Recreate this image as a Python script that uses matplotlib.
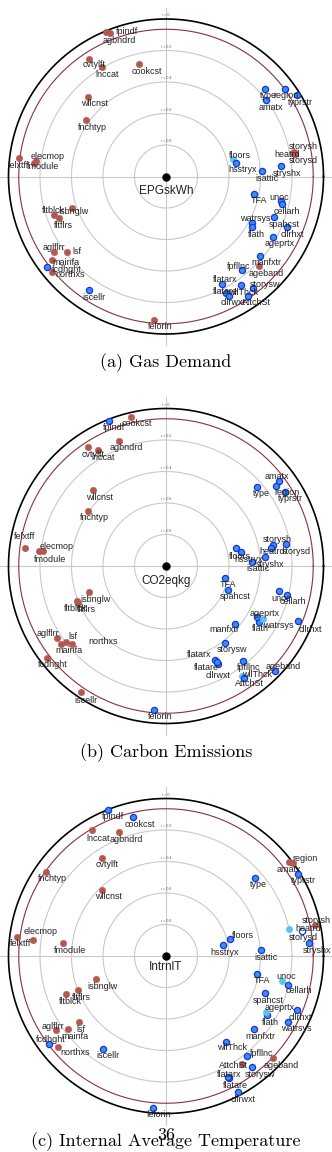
import numpy as np
import matplotlib
matplotlib.use("Agg")
import matplotlib.pyplot as plt

# ---------------- data ----------------
names = ["fpindf", "agbndrd", "cvtylft", "lnccat", "cookcst", "wllcnst", "fnchtyp",
         "felxtff", "elecmop", "fmodule", "type", "region", "typrstr", "amatx",
         "storysh", "heatrd", "storysd", "floors", "hsstryx", "isattic", "stryshx",
         "TFA", "unoc", "cellarh", "watrsys", "flath", "spahcst", "cllrhxt",
         "ageprtx", "manfxtr", "ageband", "fpfllnc", "flatarx", "wllThck", "storysw",
         "flatare", "cllrwxt", "AttchSt", "isbnglw", "fltblck", "fltflrs", "aglflrr",
         "lsf", "mainfa", "fcdhght", "northxs", "iscellr", "felorin"]

# (a) Gas Demand
gas_x = [-0.381, -0.356, -0.489, -0.406, -0.170, -0.493, -0.508, -0.933, -0.825, -0.836,
         0.630, 0.757, 0.830, 0.635, 0.815, 0.804, 0.819, 0.427, 0.444, 0.610, 0.730,
         0.559, 0.730, 0.738, 0.546, 0.546, 0.688, 0.771, 0.679, 0.595, 0.592, 0.481,
         0.356, 0.476, 0.550, 0.381, 0.400, 0.523, -0.595, -0.711, -0.677, -0.711,
         -0.627, -0.726, -0.754, -0.726, -0.487, -0.074]
gas_y = [0.916, 0.909, 0.748, 0.693, 0.716, 0.507, 0.357, 0.117, 0.098, 0.084,
         0.554, 0.554, 0.517, 0.486, 0.157, 0.147, 0.143, 0.109, 0.084, 0.033, 0.065,
         -0.113, -0.154, -0.175, -0.297, -0.323, -0.260, -0.319, -0.382, -0.503, -0.570,
         -0.596, -0.684, -0.689, -0.707, -0.740, -0.759, -0.759, -0.198, -0.244, -0.265,
         -0.477, -0.477, -0.530, -0.573, -0.604, -0.721, -0.911]
gas_sign = "mmmmmmmmmm" "bbbb" "mmm" "c" "bbbbbbbbbbbb" "m" "bbbbbbb" "mmmmmm" "b" "m" "b" "m"

# (b) Carbon Emissions
co2_x = [-0.364, -0.297, -0.493, -0.434, -0.222, -0.463, -0.497, -0.895, -0.783, -0.806,
         0.576, 0.700, 0.757, 0.716, 0.677, 0.667, 0.762, 0.444, 0.478, 0.548, 0.629,
         0.375, 0.717, 0.770, 0.592, 0.576, 0.396, 0.840, 0.618, 0.436, 0.694, 0.491,
         0.311, 0.481, 0.377, 0.332, 0.324, 0.497, -0.487, -0.567, -0.557, -0.690,
         -0.637, -0.669, -0.757, -0.595, -0.538, -0.074]
co2_y = [0.923, 0.796, 0.757, 0.737, 0.948, 0.481, 0.349, 0.112, 0.097, 0.093,
         0.503, 0.508, 0.472, 0.542, 0.131, 0.117, 0.140, 0.112, 0.091, 0.027, 0.055,
         -0.074, -0.157, -0.184, -0.354, -0.326, -0.152, -0.347, -0.338, -0.368, -0.665,
         -0.603, -0.597, -0.698, -0.487, -0.624, -0.610, -0.713, -0.163, -0.220, -0.235,
         -0.459, -0.481, -0.495, -0.582, -0.495, -0.802, -0.914]
co2_sign = "b" "mmmmmmmmm" "bbbbbbbbbbbbbbbbbb" "c" "bbbb" "c" "bbbb" "mmmmmmmmm" "b"

# (c) Internal Average Temperature
tmp_x = [-0.366, -0.297, -0.406, -0.470, -0.208, -0.406, -0.762, -0.948, -0.843, -0.656,
         0.565, 0.808, 0.836, 0.779, 0.946, 0.862, 0.779, 0.406, 0.360, 0.603, 0.910,
         0.580, 0.735, 0.773, 0.773, 0.639, 0.629, 0.832, 0.633, 0.557, 0.681, 0.516,
         0.402, 0.381, 0.548, 0.394, 0.455, 0.481, -0.444, -0.637, -0.561, -0.698,
         -0.552, -0.620, -0.743, -0.684, -0.398, -0.081]
tmp_y = [0.927, 0.787, 0.624, 0.798, 0.881, 0.421, 0.533, 0.123, 0.102, 0.084,
         0.495, 0.592, 0.521, 0.595, 0.197, 0.161, 0.170, 0.106, 0.072, 0.038, 0.081,
         -0.112, -0.157, -0.182, -0.419, -0.375, -0.237, -0.341, -0.354, -0.465, -0.650,
         -0.633, -0.777, -0.546, -0.705, -0.768, -0.862, -0.688, -0.148, -0.243, -0.218,
         -0.470, -0.419, -0.462, -0.561, -0.576, -0.590, -0.963]
tmp_sign = "bmmmbmmmmm" "bmbmm" "hc" "bbbbb" "c" "bbbbb" "c" "b" "m" "bbbbbb" "m" "mmmmmm" "b" "m" "bb"

targets = ["EPGskWh", "CO2eqkg", "IntrnlT"]
captions = ["(a) Gas Demand", "(b) Carbon Emissions", "(c) Internal Average Temperature"]
ring_labels = ["r = 0", "r = 0.2", "r = 0.4", "r = 0.6", "r = 0.8"]

# ---------------- layout (label offsets in px: right, down) ----------------
off_a = [(20.7, -0.6), (9.3, 6.7), (5, 6.3), (5.3, 7), (7.4, 7.3), (6, 7), (6.3, 7), (-0.3, 7),
         (11.7, -5), (8.4, 3.4), (3, 6.7), (0.7, 6.7), (3.3, 7.3), (4.7, 7.7), (9, -5), (-5.4, 1),
         (8.3, 6.7), (6.7, -4), (6.3, 6.7), (4.7, 7.4), (6.3, 7), (4.7, 6.7), (-1.7, -3), (5, 7),
         (3, -4.3), (4, 6.7), (9.7, 6.8), (4.8, 7.3), (6.3, 6.6), (7, 7), (7.4, 6.8), (-3.5, -4.3),
         (3.3, -4.3), (2.3, 7.3), (12.3, -3.5), (-1, -1.3), (4.3, 6.7), (8.4, 6.7), (1, 4),
         (-0.7, -4), (4, 7.4), (0, -3.7), (10, 0), (14.3, 2.7), (19.4, 2.6), (18.3, 3.3),
         (5, 7.3), (5.7, 6.7)]
off_b = [(5.3, 7), (7.4, 6.6), (5, 7.3), (5.6, 7.3), (6.3, 7), (6, 7.4), (6.3, 6.7), (-0.7, -11.6),
         (14, -4.7), (11, 8), (5, 7), (10.4, 6.7), (5.4, 6.6), (-1.4, -3.7), (4.6, -6), (0.7, 4.2),
         (10.7, 7.7), (4, 7.7), (7, 7.6), (6, 6.6), (5, 6.7), (3.3, 6.6), (2.7, 7.6), (6, 6.7),
         (19, 4), (3.3, 11), (6.7, 6.7), (11.7, 9.3), (1.7, -6), (-10.7, 6), (8, -4), (5, 6.7),
         (-16, -5.7), (15, -1), (6.4, 6.6), (-11.6, 3), (1.3, 13.3), (5.7, 5.7), (6.4, 7.6),
         (-1.7, 7.6), (7.7, 6.3), (-9.6, -5), (7, -5.7), (8.3, 7), (6, 6.6), (30.4, -2),
         (4.7, 7.7), (5.7, 6.7)]
off_c = [(5, 6.7), (7.4, 7), (4.7, 7), (5.7, 7.7), (6.7, 7), (6.3, 7), (6.7, 6.7), (4.3, 6.6),
         (7.4, -8.7), (7.3, 7.3), (3.3, 6.3), (11.7, -4), (5.6, 6.7), (0, 7.7), (1.7, -4), (6.6, -1.7),
         (14.6, 8.4), (12.7, -3.6), (1.6, 8), (5, 7.3), (7.4, 7.4), (4.4, 7), (4.3, -4), (11.6, 6.3),
         (9, 6.7), (3.3, 7), (3.3, 6.7), (3, 7.6), (14.3, -4), (6.3, 7.4), (8.4, 7), (14.4, -2.4),
         (0, -4.3), (6.3, 5.7), (7.7, 7), (7, 8.7), (5.6, 7.3), (-8.4, 0.7), (6.3, 6.7), (4.3, 7.4),
         (4, 7), (-2.7, -3.3), (2, 7.3), (6.7, 7.3), (1.7, -5), (16.7, 5.3), (5, 7), (5.7, 6.6)]

panels = [
    dict(x=gas_x, y=gas_y, s=gas_sign, off=off_a, cy=176.5, tlab=15),
    dict(x=co2_x, y=co2_y, s=co2_sign, off=off_b, cy=566.0, tlab=14.7),
    dict(x=tmp_x, y=tmp_y, s=tmp_sign, off=off_c, cy=956.0, tlab=10.5),
]
cap_y = [363, 753, 1142]

W, H = 332, 1152
R = 157.5
fig = plt.figure(figsize=(W / 100, H / 100), dpi=100)
fig.patch.set_facecolor("white")

MAROON = "#b3574f"
BLUE = "#3b8df2"
BLUE_EDGE = "#1436d8"
CYAN = "#5cc2ef"
PX = 0.72  # points per pixel

sfont = "Liberation Sans"
th = np.linspace(0, 2 * np.pi, 400)

for i, p in enumerate(panels):
    hh = 180
    ax = fig.add_axes([0, (H - (p["cy"] + hh)) / H, 1, 2 * hh / H])
    ax.set_xlim(-166 / R, 166 / R)
    ax.set_ylim(-hh / R, hh / R)
    ax.axis("off")
    # axis cross
    ax.plot([-166 / R, 166 / R], [0, 0], color="#c9c9c9", lw=0.8, zorder=1)
    ax.plot([0, 0], [-1.07, 1.07], color="#c9c9c9", lw=0.8, zorder=1)
    # rings
    for rr in [0.2, 0.4, 0.6, 0.8]:
        ax.plot(rr * np.cos(th), rr * np.sin(th), color="#c9c9c9", lw=0.8, zorder=1)
    ax.plot(0.935 * np.cos(th), 0.935 * np.sin(th), color="#8e2f40", lw=0.8, zorder=2)
    ax.plot(np.cos(th), np.sin(th), color="black", lw=1.2, zorder=2)
    for k, lab in enumerate(ring_labels):
        ax.text(0, 1.0 - 0.2 * k + 0.025, lab, fontsize=2.6, color="#555555",
                ha="center", va="center", family=sfont, zorder=3)
    # centre
    ax.plot([0], [0], "o", color="black", ms=5, zorder=5)
    ax.annotate(targets[i], (0, 0), xytext=(0, -p["tlab"] * PX), textcoords="offset points",
                ha="center", va="center", fontsize=8.5, family=sfont, color="#222222")
    # points
    for j, nm in enumerate(names):
        xv, yv, code = p["x"][j], p["y"][j], p["s"][j]
        if code == "m":
            ax.scatter([xv], [yv], s=22, color=MAROON, edgecolors=MAROON, linewidths=0.3, zorder=4)
        elif code == "b":
            ax.scatter([xv], [yv], s=20, color=BLUE, edgecolors=BLUE_EDGE, linewidths=0.9, zorder=4)
        elif code == "c":
            ax.scatter([xv], [yv], s=22, color=CYAN, edgecolors=CYAN, linewidths=0.3, zorder=4)
        else:
            ax.scatter([xv], [yv], s=20, color="white", edgecolors=BLUE_EDGE, linewidths=0.9, zorder=4)
        dx, dy = p["off"][j]
        ax.annotate(nm, (xv, yv), xytext=(dx * PX, -dy * PX), textcoords="offset points",
                    ha="center", va="center", fontsize=6.5, family=sfont, color="#222222",
                    zorder=6)
    fig.text(0.5, 1 - cap_y[i] / H, captions[i], ha="center", va="center",
             fontsize=13, family="cmr10")

fig.text(0.5, 1 - 1135 / H, "36", ha="center", va="center", fontsize=13, family="cmr10")

fig.savefig("out.png", dpi=100)
